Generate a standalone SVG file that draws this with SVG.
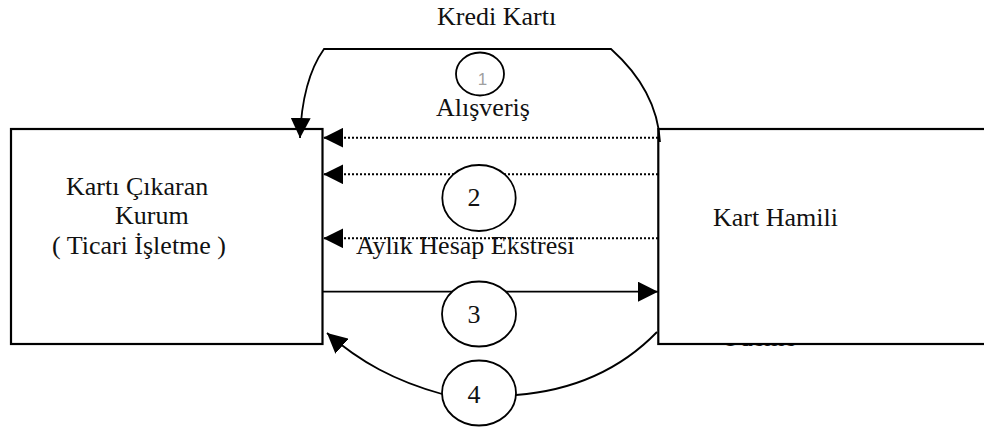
<svg xmlns="http://www.w3.org/2000/svg" width="984" height="427" viewBox="0 0 984 427">
  <style>
    .box { fill: #ffffff; stroke: #000000; stroke-width: 2.2; }
    .txt { font-family: "Liberation Serif", "Times New Roman", serif; font-size: 26px; fill: #111111; }
    .flow { fill: none; stroke: #000000; stroke-width: 1.8; }
    .dot { fill: none; stroke: #000000; stroke-width: 2; stroke-dasharray: 2 2; }
    .bubble { fill: #ffffff; stroke: #000000; stroke-width: 1.8; }
  </style>
  <defs>
    <marker id="ah" markerUnits="userSpaceOnUse" markerWidth="20" markerHeight="20" viewBox="0 0 20 20" refX="20" refY="10" orient="auto">
      <path d="M0,0 L20,10 L0,20 z" fill="#000000"/>
    </marker>
  </defs>

  <!-- label of flow 4, partly hidden under the card holder box -->
  <g id="label-odeme">
    <text class="txt" x="721" y="346">Ödeme</text>
  </g>

  <!-- issuing institution -->
  <g id="issuer">
    <rect class="box" x="11" y="129" width="311.5" height="215"/>
    <text class="txt" x="66" y="195">Kartı Çıkaran</text>
    <text class="txt" x="115" y="224">Kurum</text>
    <text class="txt" x="52" y="254">( Ticari İşletme )</text>
  </g>

  <!-- card holder -->
  <g id="cardholder">
    <rect class="box" x="658.3" y="129" width="340" height="215"/>
    <text class="txt" x="713" y="226">Kart Hamili</text>
  </g>

  <!-- flows between the two parties -->
  <g id="connectors">
    <path class="flow" d="M660,142 C658,105 640,75 611,49 L324,49 Q302,80 300,138" marker-end="url(#ah)"/>
    <path class="dot" d="M658,137.7 L323.3,137.7" marker-end="url(#ah)"/>
    <path class="dot" d="M658,174.3 L323.3,174.3" marker-end="url(#ah)"/>
    <path class="dot" d="M658,238.3 L323.3,238.3" marker-end="url(#ah)"/>
    <path class="flow" d="M323,291.7 L658,291.7" marker-end="url(#ah)"/>
    <path class="flow" d="M657,332 C625,365 580,390 516,395"/>
    <path class="flow" d="M442,394 C395,381 360,362 327,333" marker-end="url(#ah)"/>
  </g>

  <!-- numbered flow labels -->
  <g id="step-1">
    <ellipse class="bubble" cx="480" cy="74" rx="24" ry="21.5"/>
    <text x="482.5" y="85" text-anchor="middle" font-family="Liberation Sans, Arial, sans-serif" font-size="17" fill="#a0a0a0">1</text>
    <text class="txt" x="436" y="116">Alışveriş</text>
  </g>
  <g id="label-kredi">
    <text class="txt" x="437" y="25">Kredi Kartı</text>
  </g>
  <g id="step-2">
    <ellipse class="bubble" cx="479" cy="198" rx="36.7" ry="33"/>
    <text class="txt" x="474" y="206" text-anchor="middle">2</text>
    <text class="txt" x="356" y="254">Aylık Hesap Ekstresi</text>
  </g>
  <g id="step-3">
    <ellipse class="bubble" cx="479" cy="314" rx="37" ry="32.5"/>
    <text class="txt" x="474" y="323" text-anchor="middle">3</text>
  </g>
  <g id="step-4">
    <ellipse class="bubble" cx="479" cy="393" rx="37" ry="32.5"/>
    <text class="txt" x="474" y="403" text-anchor="middle">4</text>
  </g>
</svg>
